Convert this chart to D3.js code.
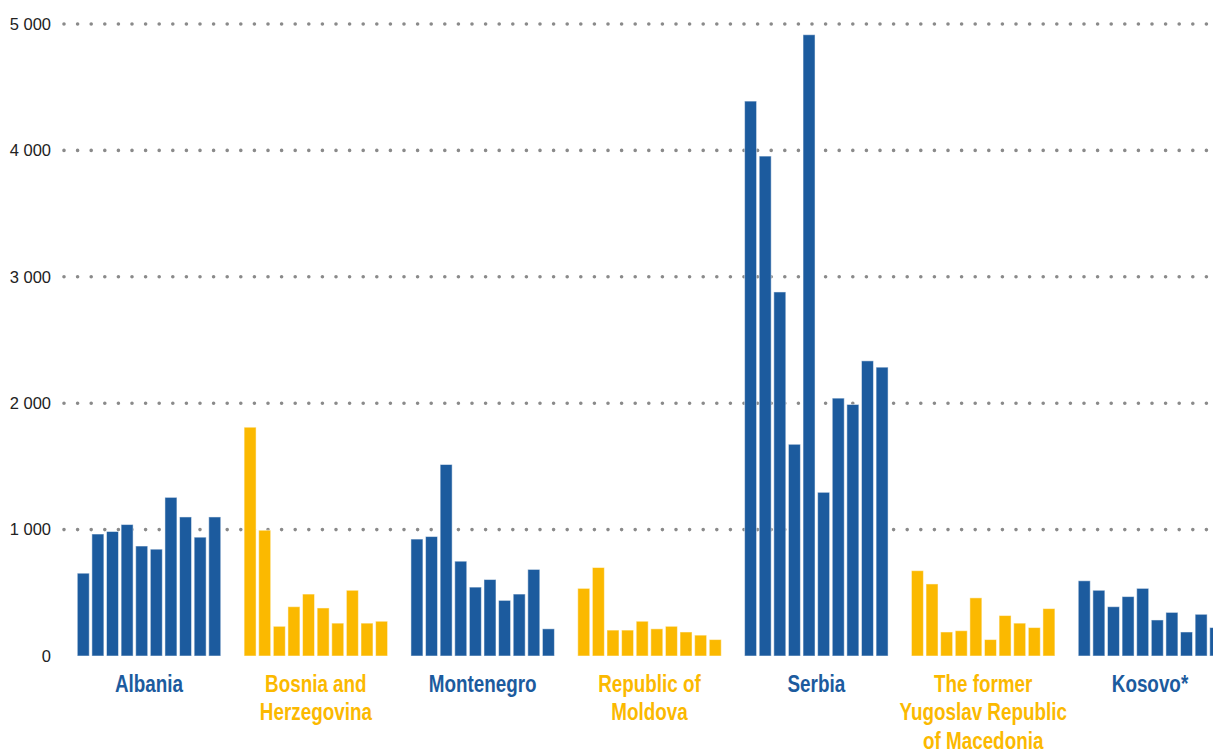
<!DOCTYPE html>
<html>
<head>
<meta charset="utf-8">
<script src="https://cdn.jsdelivr.net/npm/d3@7"></script>
<style>
  html, body { margin: 0; padding: 0; background: #fff; overflow: hidden; }
  .tick-label { font-family: "Liberation Sans", Arial, sans-serif; font-size: 16.5px; fill: #222; }
  .cat-label { font-family: "Liberation Sans", Arial, sans-serif; font-size: 23px; font-weight: bold; }
</style>
</head>
<body>
<div id="chart"></div>
<script>
'use strict';
// categories (label lines) and the ten yearly values per country
var countries = ["Albania", "Bosnia and Herzegovina", "Montenegro", "Republic of Moldova",
                 "Serbia", "The former Yugoslav Republic of Macedonia", "Kosovo*"];
var labelLines = [
    ["Albania"],
    ["Bosnia and", "Herzegovina"],
    ["Montenegro"],
    ["Republic of", "Moldova"],
    ["Serbia"],
    ["The former", "Yugoslav Republic", "of Macedonia"],
    ["Kosovo*"]
];
var albania    = [655, 965, 985, 1040, 870, 845, 1255, 1100, 940, 1100];
var bosnia     = [1810, 995, 235, 390, 490, 380, 260, 520, 260, 275];
var montenegro = [925, 945, 1515, 750, 545, 605, 440, 490, 685, 215];
var moldova    = [535, 700, 205, 205, 275, 215, 235, 190, 165, 130];
var serbia     = [4390, 3955, 2880, 1675, 4915, 1295, 2040, 1990, 2335, 2285];
var macedonia  = [675, 570, 190, 200, 460, 130, 320, 260, 225, 375];
var kosovo     = [595, 520, 390, 470, 535, 285, 345, 190, 330, 225];
var seriesValues = [albania, bosnia, montenegro, moldova, serbia, macedonia, kosovo];
var yTicks = [0, 1000, 2000, 3000, 4000, 5000];
var gridTicks = [1000, 2000, 3000, 4000, 5000];

var blue = "#1c5b9e", yellow = "#fbb900";
var colorFor = function(i){ return i % 2 === 0 ? blue : yellow; };

var width = 1213, height = 752;
var svg = d3.select("#chart").append("svg")
    .attr("width", width)
    .attr("height", height);

// scales
var step = 166.83;
var x0 = d3.scaleBand()
    .domain(countries)
    .range([65.6, 65.6 + step * countries.length])
    .paddingInner(0.14)
    .paddingOuter(0.07);
var x1 = d3.scaleBand()
    .domain(d3.range(10))
    .range([0, x0.bandwidth()])
    .paddingInner(0.18);
var y = d3.scaleLinear().domain([0, 5000]).range([656, 24]);

// dotted gridlines
svg.append("g").selectAll("line")
    .data(gridTicks)
    .join("line")
    .attr("x1", 64).attr("x2", width + 10)
    .attr("y1", function(d){ return y(d); })
    .attr("y2", function(d){ return y(d); })
    .attr("stroke", "#8a8a8a")
    .attr("stroke-width", 3.6)
    .attr("stroke-linecap", "round")
    .attr("stroke-dasharray", "0 13.6");

// y axis labels
var yAxis = svg.append("g")
    .attr("transform", "translate(51,0)")
    .call(d3.axisLeft(y).tickValues(yTicks).tickSize(0).tickPadding(0)
        .tickFormat(function(d){ return d3.format(",")(d).replace(",", " "); }));
yAxis.select(".domain").remove();
yAxis.selectAll("text").attr("class", "tick-label").attr("fill", null);

// bars
var groups = svg.append("g").selectAll("g")
    .data(countries)
    .join("g")
    .attr("transform", function(d){ return "translate(" + x0(d) + ",0)"; });

groups.selectAll("rect")
    .data(function(d, i){ return seriesValues[i].map(function(v){ return {v: v, c: colorFor(i)}; }); })
    .join("rect")
    .attr("x", function(d, j){ return x1(j); })
    .attr("width", x1.bandwidth())
    .attr("y", function(d){ return y(d.v); })
    .attr("height", function(d){ return y(0) - y(d.v); })
    .attr("fill", function(d){ return d.c; })
    .attr("stroke", "#fff")
    .attr("stroke-opacity", 0.5)
    .attr("stroke-width", 1);

// category labels (condensed look via horizontal scale)
groups.append("g")
    .attr("transform", "translate(" + (x0.bandwidth() / 2) + ",0) scale(0.82,1)")
    .append("text")
    .attr("class", "cat-label")
    .attr("text-anchor", "middle")
    .attr("fill", function(d, i){ return colorFor(i); })
    .selectAll("tspan")
    .data(function(d, i){ return labelLines[i]; })
    .join("tspan")
    .attr("x", 0)
    .attr("y", function(d, k){ return 692 + k * 28.3; })
    .text(function(d){ return d; });
</script>
</body>
</html>
